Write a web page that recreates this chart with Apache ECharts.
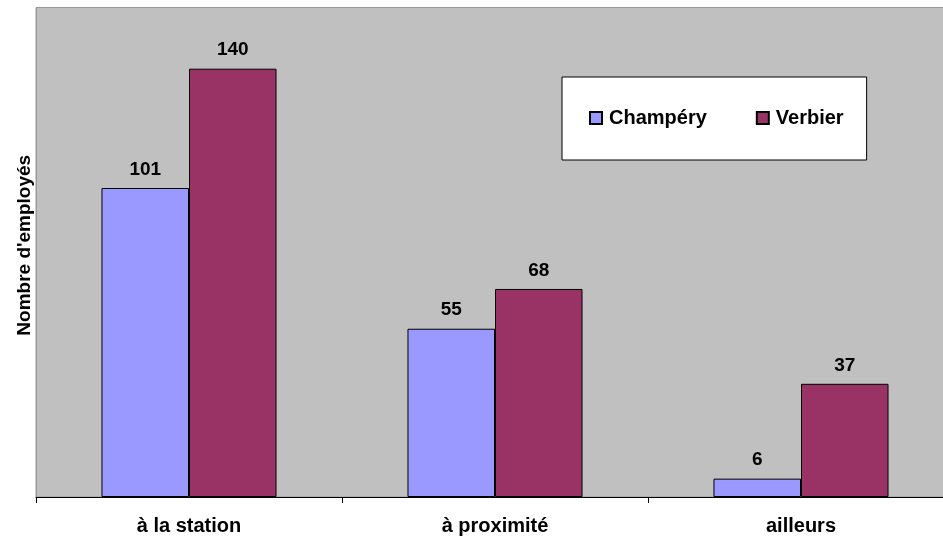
<!DOCTYPE html>
<html><head><meta charset="utf-8">
<script src="https://cdn.jsdelivr.net/npm/echarts@6/dist/echarts.min.js"></script>
<style>html,body{margin:0;padding:0;background:#fff}#c{width:943px;height:539px}</style>
</head><body><div id="c"></div>
<script>
const categories = ['à la station', 'à proximité', 'ailleurs'];
const champery = [101, 55, 6];
const verbier = [140, 68, 37];
const seriesNames = ['Champéry', 'Verbier'];
const yTitle = "Nombre d'employés";

const chart = echarts.init(document.getElementById('c'), null, {renderer: 'canvas'});
const F = 'Liberation Sans, Arial, sans-serif';
const lbl = {show: true, position: 'top', distance: 9, color: '#000', fontFamily: F, fontWeight: 'bold', fontSize: 19};
chart.setOption({
  animation: false,
  backgroundColor: '#fff',
  grid: {left: 36, top: 7.5, width: 918, bottom: 42, outerBoundsMode: 'none', containLabel: false,
         show: true, backgroundColor: '#c0c0c0', borderColor: '#999', borderWidth: 1},
  legend: {
    left: 562, top: 77,
    backgroundColor: '#fff', borderColor: '#000', borderWidth: 1,
    padding: [31, 23, 32, 27],
    itemWidth: 12, itemHeight: 12, itemGap: 49,
    icon: 'rect',
    textStyle: {fontFamily: F, fontWeight: 'bold', fontSize: 20, color: '#000', padding: [0,0,0,2]},
    data: seriesNames
  },
  xAxis: {
    type: 'category', data: categories,
    axisLine: {lineStyle: {color: '#000', width: 1}},
    axisTick: {show: true, length: 6, lineStyle: {color: '#000'}},
    axisLabel: {fontFamily: F, fontWeight: 'bold', fontSize: 20, color: '#000', margin: 19}
  },
  yAxis: {
    type: 'value', min: 0, max: 160,
    name: yTitle, nameLocation: 'middle', nameRotate: 90, nameGap: 2,
    nameTextStyle: {fontFamily: F, fontWeight: 'bold', fontSize: 19, color: '#000', padding: [0, 0, 0, 14]},
    axisLine: {show: true, lineStyle: {color: '#999'}},
    axisTick: {show: false}, axisLabel: {show: false}, splitLine: {show: false}
  },
  series: [
    {name: seriesNames[0], type: 'bar', data: champery, barGap: '0%', barCategoryGap: '42.8%',
     itemStyle: {color: '#9999ff', borderColor: '#000', borderWidth: 1}, label: lbl},
    {name: seriesNames[1], type: 'bar', data: verbier, barGap: '0%', barCategoryGap: '42.8%',
     itemStyle: {color: '#993366', borderColor: '#000', borderWidth: 1}, label: lbl}
  ]
});
</script></body></html>
